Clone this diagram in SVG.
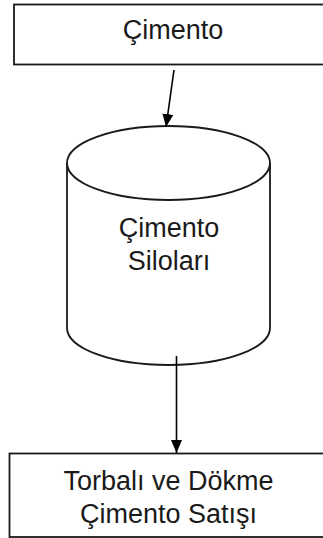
<svg xmlns="http://www.w3.org/2000/svg" width="323" height="538" viewBox="0 0 323 538">
<defs>
<style>
.shape{fill:#fff;stroke:#1a1a1a;stroke-width:1.8}
.edge{fill:none;stroke:#000;stroke-width:1.6}
.lbl{font-family:"Liberation Sans",Arial,sans-serif;font-size:27px;fill:#1a1a1a;text-anchor:middle}
</style>
<marker id="arr" markerUnits="userSpaceOnUse" markerWidth="14" markerHeight="14" viewBox="0 0 14 14" refX="13" refY="7" orient="auto">
<path d="M0,1.5 L13,7 L0,12.5 Z" fill="#000"/>
</marker>
</defs>
<rect width="323" height="538" fill="#fff"/>
<g id="node-cimento">
<rect class="shape" x="14" y="4.5" width="318" height="60"/>
<text class="lbl" x="173" y="39">Çimento</text>
</g>
<g id="node-silo">
<path class="shape" d="M67,163 A101.5,37 0 0 1 270,163 L270,328 A101.5,37 0 0 1 67,328 Z"/>
<path class="shape" fill="none" d="M67,163 A101.5,37 0 0 0 270,163"/>
<text class="lbl" x="169" y="237">Çimento</text>
<text class="lbl" x="169" y="270">Siloları</text>
</g>
<g id="node-satis">
<rect class="shape" x="9.5" y="453.5" width="318" height="83.5"/>
<text class="lbl" x="168.5" y="490">Torbalı ve Dökme</text>
<text class="lbl" x="168.5" y="523">Çimento Satışı</text>
</g>
<g id="connectors">
<line class="edge" x1="174" y1="70" x2="166" y2="127" marker-end="url(#arr)"/>
<line class="edge" x1="176.5" y1="356" x2="176.5" y2="453" marker-end="url(#arr)"/>
</g>
</svg>
